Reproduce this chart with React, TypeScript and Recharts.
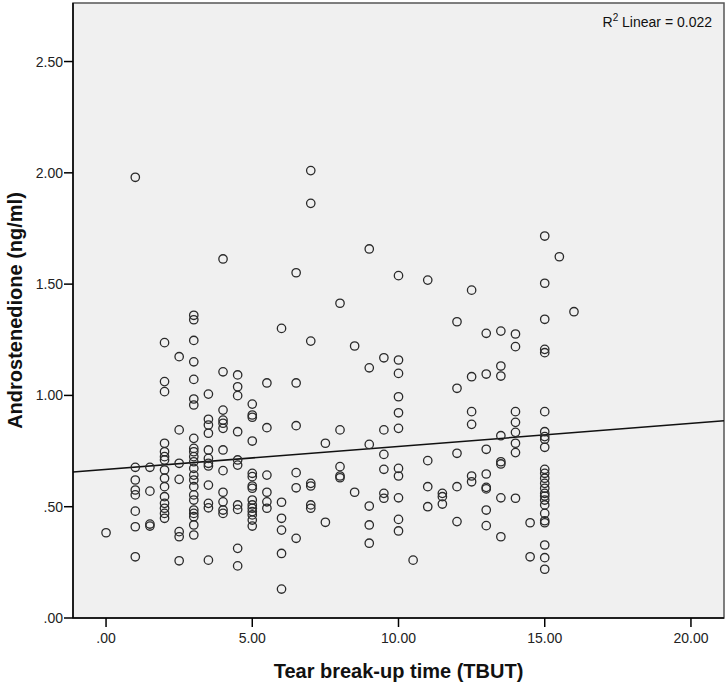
import React from "react";
import {
  ScatterChart,
  Scatter,
  XAxis,
  YAxis,
  ReferenceArea,
  ReferenceLine,
} from "recharts";

// TBUT levels (x) and the androstenedione values observed at each level (y)
const tbutLevels = [0, 1, 1.5, 2, 2.5, 3, 3.5, 4, 4.5, 5, 5.5, 6, 6.5, 7, 7.5, 8, 8.5, 9, 9.5, 10, 10.5, 11, 11.5, 12, 12.5, 13, 13.5, 14, 14.5, 15, 15.5, 16];

const androstenedioneByLevel = [
  [0.383],
  [1.98, 0.677, 0.62, 0.575, 0.553, 0.48, 0.41, 0.275],
  [0.677, 0.57, 0.422, 0.413],
  [1.237, 1.062, 1.017, 0.785, 0.747, 0.725, 0.71, 0.665, 0.628, 0.59, 0.545, 0.515, 0.493, 0.47, 0.448],
  [1.174, 0.845, 0.695, 0.623, 0.388, 0.365, 0.257],
  [1.36, 1.34, 1.247, 1.151, 1.072, 0.984, 0.957, 0.807, 0.762, 0.747, 0.725, 0.702, 0.672, 0.642, 0.62, 0.59, 0.553, 0.53, 0.485, 0.47, 0.455, 0.418, 0.373],
  [1.006, 0.893, 0.867, 0.83, 0.755, 0.717, 0.695, 0.683, 0.597, 0.515, 0.495, 0.26],
  [1.613, 1.106, 0.934, 0.889, 0.875, 0.852, 0.755, 0.662, 0.565, 0.522, 0.485, 0.47],
  [1.092, 1.039, 0.999, 0.837, 0.71, 0.687, 0.508, 0.488, 0.313, 0.234],
  [0.961, 0.912, 0.902, 0.795, 0.65, 0.635, 0.593, 0.583, 0.53, 0.508, 0.493, 0.478, 0.463, 0.44, 0.413],
  [1.056, 0.855, 0.642, 0.565, 0.522, 0.493],
  [1.301, 0.52, 0.448, 0.395, 0.29, 0.13],
  [1.551, 1.056, 0.864, 0.653, 0.585, 0.358],
  [2.01, 1.863, 1.244, 0.605, 0.593, 0.508, 0.493],
  [0.785, 0.43],
  [1.414, 0.845, 0.68, 0.638, 0.63],
  [1.222, 0.565],
  [1.658, 1.124, 0.78, 0.503, 0.418, 0.336],
  [1.169, 0.845, 0.735, 0.668, 0.56, 0.538],
  [1.538, 1.159, 1.099, 0.994, 0.922, 0.852, 0.672, 0.638, 0.54, 0.443, 0.391],
  [0.26],
  [1.518, 0.707, 0.59, 0.5],
  [0.56, 0.545, 0.512],
  [1.331, 1.032, 0.74, 0.59, 0.433],
  [1.473, 1.084, 0.927, 0.87, 0.638, 0.612],
  [1.279, 1.096, 0.758, 0.647, 0.587, 0.58, 0.485, 0.415],
  [1.289, 1.132, 1.087, 0.819, 0.702, 0.692, 0.54, 0.365],
  [1.276, 1.219, 0.927, 0.879, 0.834, 0.785, 0.743, 0.538],
  [0.428, 0.275],
  [1.716, 1.504, 1.342, 1.207, 1.192, 0.927, 0.837, 0.815, 0.803, 0.767, 0.668, 0.65, 0.628, 0.605, 0.583, 0.56, 0.548, 0.53, 0.508, 0.47, 0.437, 0.428, 0.328, 0.271, 0.219],
  [1.623],
  [1.376],
];

const xTicks = [0, 5, 10, 15, 20];
const yTicks = [0, 0.5, 1, 1.5, 2, 2.5];

const xDomain = [-1.13, 21.13];
const yDomain = [0, 2.763];

const fitIntercept = 0.6676;
const fitSlope = 0.01032;
const rSquaredText = "0.022";

const points = tbutLevels.flatMap((t, i) =>
  androstenedioneByLevel[i].map((v) => ({ tbut: t, andro: v }))
);

const fmt = (v: number) => {
  const s = v.toFixed(2);
  return s.startsWith("0.") ? s.slice(1) : s;
};

const FONT = "'Liberation Sans', Arial, sans-serif";

const Ring = (props: any) => {
  const { cx, cy } = props;
  if (cx == null || cy == null) return null;
  return <circle cx={cx} cy={cy} r={4.2} fill="none" stroke="#2a2a2a" strokeWidth={1.3} />;
};

export default function App() {
  return (
    <div
      style={{
        position: "absolute",
        left: 0,
        top: 0,
        width: 726,
        height: 684,
        background: "#ffffff",
        fontFamily: FONT,
      }}
    >
      <ScatterChart
        width={726}
        height={684}
        margin={{ top: 3, right: 2, bottom: 0, left: 0 }}
      >
        <ReferenceArea
          x1={xDomain[0]}
          x2={xDomain[1]}
          y1={yDomain[0]}
          y2={yDomain[1]}
          fill="#f0f0f0"
          fillOpacity={1}
          stroke="#555"
          strokeWidth={1.5}
          ifOverflow="visible"
        />
        <XAxis
          type="number"
          dataKey="tbut"
          domain={xDomain}
          ticks={xTicks}
          tickFormatter={fmt}
          allowDataOverflow
          height={66}
          stroke="#000"
          strokeWidth={1.5}
          tickSize={9}
          tickMargin={6}
          tick={{ fill: "#222", fontSize: 14, fontFamily: FONT }}
          label={{
            value: "Tear break-up time (TBUT)",
            position: "insideBottom",
            offset: 6,
            fill: "#111",
            fontSize: 20,
            fontWeight: "bold",
            fontFamily: FONT,
          }}
        />
        <YAxis
          type="number"
          dataKey="andro"
          domain={yDomain}
          ticks={yTicks}
          tickFormatter={fmt}
          allowDataOverflow
          width={73}
          stroke="#000"
          strokeWidth={1.5}
          tickSize={9}
          tickMargin={1}
          tick={{ fill: "#222", fontSize: 14, fontFamily: FONT }}
          label={{
            value: "Androstenedione (ng/ml)",
            angle: -90,
            position: "center",
            dx: -22,
            fill: "#111",
            fontSize: 20,
            fontWeight: "bold",
            fontFamily: FONT,
          }}
        />
        <ReferenceLine
          segment={[
            { x: xDomain[0], y: fitIntercept + fitSlope * xDomain[0] },
            { x: xDomain[1], y: fitIntercept + fitSlope * xDomain[1] },
          ]}
          stroke="#111"
          strokeWidth={1.5}
          ifOverflow="visible"
        />
        <Scatter data={points} shape={Ring} isAnimationActive={false} />
      </ScatterChart>
      <div
        style={{
          position: "absolute",
          right: 14,
          top: 12,
          fontSize: 14,
          color: "#111",
          fontFamily: FONT,
          whiteSpace: "nowrap",
        }}
      >
        R<sup style={{ fontSize: 10 }}>2</sup> Linear = {rSquaredText}
      </div>
    </div>
  );
}
